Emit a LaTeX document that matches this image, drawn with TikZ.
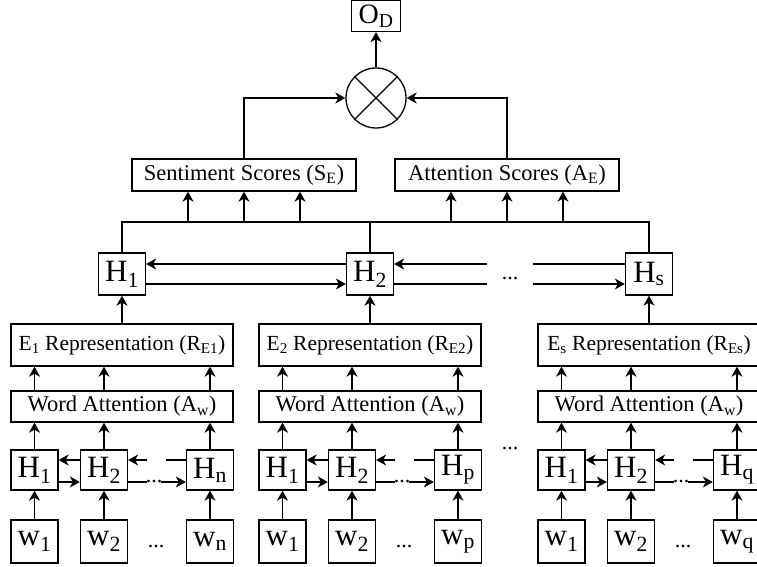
\documentclass[tikz,border=0pt]{standalone}
\usepackage{fontspec}
\setmainfont{Liberation Serif}
\usetikzlibrary{positioning,calc,arrows.meta}

\begin{document}
\begin{tikzpicture}[x=1pt,y=1pt,
  line width=1.3pt,
  arr/.style={-{Stealth[length=10pt,width=11pt,inset=3pt]}},
  box/.style={draw, inner sep=0pt, font=\fontsize{22.5}{26}\selectfont},
  sq/.style={draw, inner sep=0pt, minimum width=47pt, font=\fontsize{31}{34}\selectfont},
  dots/.style={anchor=base, inner sep=0pt, font=\fontsize{22}{26}\selectfont}
]
\useasboundingbox (0,0) rectangle (757,566);

% document level
\node[box, minimum width=49pt, minimum height=31pt, font=\fontsize{28}{30}\selectfont] (od) at (376,550) {O\textsubscript{D}};
\node[draw, circle, minimum size=60pt, inner sep=0pt] (mul) at (376,468) {};
\draw (mul.45) -- (mul.225) (mul.135) -- (mul.315);
\draw[arr] (mul) -- (od);
\node[box, minimum width=224pt, minimum height=32pt] (sent) at (244,391) {Sentiment Scores (S\textsubscript{E})};
\node[box, minimum width=224pt, minimum height=32pt] (att) at (507,391) {Attention Scores (A\textsubscript{E})};
\draw[arr] (sent.north) |- (mul.west);
\draw[arr] (att.north) |- (mul.east);

% entity level
\coordinate (bus) at (0,344);
\foreach \grp/\gx/\ent in {1/11/1, 2/259/2, 3/538/s}
  \node[sq, minimum height=42pt] (H\grp) at (\gx+111,292) {H\textsubscript{\ent}};
\draw (H1.north) |- (bus -| H3.north) -- (H3.north);
\draw (H2.north) -- (H2.north |- bus);
\foreach \dx in {-56,0,56}{
  \coordinate (t) at ($(sent.south)+(\dx,0)$);
  \draw[arr] (t |- bus) -- (t);
  \coordinate (t) at ($(att.south)+(\dx,0)$);
  \draw[arr] (t |- bus) -- (t);
}
\draw[arr] ($(H2.west)+(0,10)$) -- ($(H1.east)+(0,10)$);
\draw[arr] ($(H1.east)+(0,-10)$) -- ($(H2.west)+(0,-10)$);
\draw[arr] ($(H2.east)+(93,10)$) -- ($(H2.east)+(0,10)$);
\draw ($(H3.west)+(0,10)$) -- ++(-92,0);
\draw ($(H2.east)+(0,-10)$) -- ++(93,0);
\draw[arr] ($(H3.west)+(-92,-10)$) -- ($(H3.west)+(0,-10)$);
\node[dots] (hdots) at (510,287) {...};

% word level
\foreach \grp/\gx/\ent/\last in {1/11/1/n, 2/259/2/p, 3/538/s/q}{
  \node[box, minimum width=222pt, minimum height=42pt, font=\fontsize{21.5}{25}\selectfont] (R\grp) at (\gx+111,221)
    {E\textsubscript{\ent} Representation (R\textsubscript{E\ent})};
  \node[box, minimum width=222pt, minimum height=31pt] (A\grp) at (\gx+111,159.5)
    {Word Attention (A\textsubscript{w})};
  \draw[arr] (R\grp) -- (H\grp);
  \foreach \pos/\dx/\idx in {a/23.5/1, b/93/2, c/199/\last}{
    \node[sq, minimum height=40pt] (H\grp\pos) at (\gx+\dx,96) {H\textsubscript{\idx}};
    \node[sq, minimum height=43pt] (w\grp\pos) at (\gx+\dx,24.5) {w\textsubscript{\idx}};
    \draw[arr] (w\grp\pos) -- (H\grp\pos);
    \draw[arr] (H\grp\pos.north) -- (H\grp\pos |- A\grp.south);
    \draw[arr] (H\grp\pos |- A\grp.north) -- (H\grp\pos |- R\grp.south);
  }
  \draw[arr] ($(H\grp b.west)+(0,10)$) -- ($(H\grp a.east)+(0,10)$);
  \draw[arr] ($(H\grp a.east)+(0,-12)$) -- ($(H\grp b.west)+(0,-12)$);
  \draw[arr] ($(H\grp b.east)+(19,10)$) -- ($(H\grp b.east)+(0,10)$);
  \draw ($(H\grp c.west)+(0,10)$) -- ++(-20,0);
  \draw ($(H\grp b.east)+(0,-12)$) -- ++(19,0);
  \draw[arr] ($(H\grp c.west)+(-25,-12)$) -- ($(H\grp c.west)+(0,-12)$);
  \node[dots] (cdots\grp) at ($(H\grp b.east)+(26,-12)$) {...};
  \node[dots] (wdots\grp) at ($(w\grp b.east)+(28,-5.5)$) {...};
}
\node[dots] (gdots) at (510,117) {...};
\end{tikzpicture}
\end{document}
